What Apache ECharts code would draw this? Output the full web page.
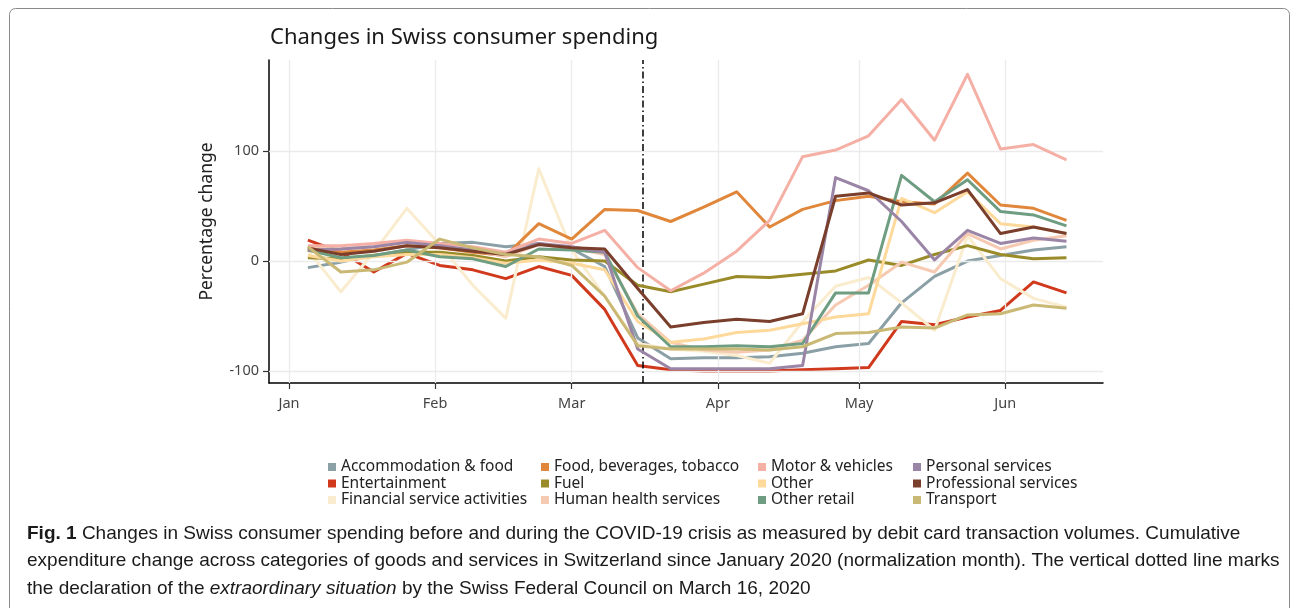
<!DOCTYPE html>
<html><head><meta charset="utf-8">
<script src="https://cdn.jsdelivr.net/npm/echarts@6/dist/echarts.min.js"></script>
<style>html,body{margin:0;padding:0;background:#fff}#c{width:1293px;height:608px}</style>
</head><body><div id="c"></div>
<script>
// weekly observation dates
const weeks = ['2020-01-05','2020-01-12','2020-01-19','2020-01-26','2020-02-02','2020-02-09','2020-02-16','2020-02-23',
  '2020-03-01','2020-03-08','2020-03-15','2020-03-22','2020-03-29','2020-04-05','2020-04-12','2020-04-19','2020-04-26',
  '2020-05-03','2020-05-10','2020-05-17','2020-05-24','2020-05-31','2020-06-07','2020-06-14'];
const monthTicks = ['2020-01-01','2020-02-01','2020-03-01','2020-04-01','2020-05-01','2020-06-01'];
const monthLabels = ['Jan','Feb','Mar','Apr','May','Jun'];
const yTicks = [-100, 0, 100];
const eventDate = '2020-03-16';

const categories = ['Accommodation & food','Entertainment','Financial service activities','Food, beverages, tobacco',
  'Fuel','Human health services','Motor & vehicles','Other','Other retail','Personal services','Professional services','Transport'];
const colors = ['#8b9fa6','#d0391c','#faecce','#e0873b','#9a8b2a','#f6cab2','#f5b0a6','#fdd99b','#6f9d82','#9b85a6','#7a3e2c','#cab974'];

const accommodation = [-6,-1,5,10,16,17,13,16,11,-5,-70,-89,-88,-88,-87,-84,-78,-75,-38,-14,0,5,10,13];
const entertainment = [19,8,-10,7,-4,-8,-16,-5,-13,-44,-95,-99,-100,-100,-100,-99,-98,-97,-55,-58,-51,-45,-19,-29];
const financial = [10,-28,8,48,15,-22,-52,84,10,-32,-75,-80,-82,-86,-93,-55,-23,-15,-38,-63,23,-16,-34,-42];
const food = [10,8,10,14,12,8,5,34,20,47,46,36,49,63,31,47,55,59,54,52,80,51,48,37];
const fuel = [3,2,5,8,8,5,0,4,1,0,-22,-28,-21,-14,-15,-12,-9,1,-4,6,14,6,2,3];
const humanHealth = [12,11,13,17,13,10,4,15,12,6,-48,-74,-81,-83,-81,-72,-40,-22,-1,-10,25,11,19,23];
const motor = [14,14,16,19,16,13,8,20,16,28,-6,-27,-11,9,37,95,101,114,147,110,170,102,106,92];
const other = [5,0,4,6,6,3,-2,1,-2,-8,-55,-74,-71,-65,-63,-57,-51,-48,57,44,63,34,31,25];
const otherRetail = [10,3,5,10,4,2,-5,11,10,8,-50,-78,-78,-77,-78,-75,-29,-29,78,54,74,45,42,32];
const personal = [10,11,13,17,14,10,6,16,13,8,-80,-98,-98,-98,-98,-95,76,64,36,1,28,16,21,18];
const professional = [12,6,9,14,12,9,6,15,12,11,-25,-60,-56,-53,-55,-48,59,62,51,53,65,25,31,25];
const transport = [13,-10,-8,-1,20,12,6,4,-4,-32,-77,-80,-80,-80,-81,-78,-66,-65,-60,-61,-49,-48,-40,-43];

const seriesValues = [accommodation, entertainment, financial, food, fuel, humanHealth, motor, other, otherRetail, personal, professional, transport];

// convert 'YYYY-MM-DD' to UTC milliseconds
function toMs(s) { const p = s.split('-').map(Number); return Date.UTC(p[0], p[1] - 1, p[2]); }
const DAY = 86400000;
const xMin = toMs('2020-01-01') - 4.25 * DAY;
const xMax = toMs('2020-06-01') + 20.75 * DAY;
const monthMs = monthTicks.map(toMs);

const FONT = 'Noto Sans';
const chart = echarts.init(document.getElementById('c'), null, {renderer: 'canvas'});

const lineSeries = categories.map((name, i) => ({
  name, type: 'line', showSymbol: false, symbol: 'none', z: 3 + i,
  data: weeks.map((w, j) => [toMs(w), seriesValues[i][j]]),
  lineStyle: {width: 3, color: colors[i], cap: 'butt', join: 'round'},
  itemStyle: {color: colors[i]},
  emphasis: {disabled: true}, silent: true
}));

const gridSeries = {
  name: '_grid', type: 'line', data: [], z: 1, silent: true,
  markLine: {
    silent: true, symbol: ['none','none'], label: {show: false}, animation: false,
    lineStyle: {color: '#ebebeb', width: 1.3, type: 'solid'},
    data: monthMs.map(d => ({xAxis: d})).concat(yTicks.map(v => ({yAxis: v})))
  }
};
const eventSeries = {
  name: '_event', type: 'line', data: [], z: 30, silent: true,
  markLine: {
    silent: true, symbol: ['none','none'], label: {show: false}, animation: false,
    lineStyle: {color: '#000', width: 1.5, type: [7,3,1.5,3]},
    data: [{xAxis: toMs(eventDate)}]
  }
};

const legendCols = [[0,1,2],[3,4,5],[6,7,8],[9,10,11]];
const legendLeft = [323, 536, 753, 908];
const legends = legendCols.map((idx, k) => ({
  orient: 'vertical', left: legendLeft[k], top: 454, itemGap: 0.5,
  icon: 'rect', itemWidth: 8, itemHeight: 8, selectedMode: false,
  textStyle: {fontFamily: FONT, fontSize: 15.5, color: '#222', lineHeight: 15},
  data: idx.map(i => categories[i])
}));

chart.setOption({
  animation: false,
  backgroundColor: '#fff',
  title: {text: 'Changes in Swiss consumer spending', left: 265, top: 22,
    textStyle: {fontFamily: FONT, fontSize: 22, fontWeight: 'normal', color: '#1a1a1a'}},
  legend: legends,
  grid: {left: 269, right: 190, top: 60, bottom: 225, containLabel: false},
  xAxis: {
    type: 'value', min: xMin, max: xMax,
    axisLine: {show: true, onZero: false, lineStyle: {color: '#000', width: 1.5}},
    axisTick: {show: true, length: 6, lineStyle: {color: '#333', width: 1.2}, customValues: monthMs},
    axisLabel: {customValues: monthMs, margin: 13, fontFamily: FONT, fontSize: 14.5, color: '#444',
      formatter: v => monthLabels[new Date(v).getUTCMonth()] || ''},
    splitLine: {show: false}, minorSplitLine: {show: false}
  },
  yAxis: {
    type: 'value', min: -111, max: 183,
    name: 'Percentage change', nameLocation: 'middle', nameGap: 53, nameRotate: 90,
    nameTextStyle: {fontFamily: FONT, fontSize: 17.5, color: '#222'},
    axisLine: {show: true, onZero: false, lineStyle: {color: '#000', width: 1.5}},
    axisTick: {show: true, length: 6, lineStyle: {color: '#333', width: 1.2}, customValues: yTicks},
    axisLabel: {customValues: yTicks, margin: 10, fontFamily: FONT, fontSize: 14.5, color: '#444'},
    splitLine: {show: false}
  },
  graphic: [
    {type: 'rect', silent: true, shape: {x: 9.5, y: 8.5, width: 1280, height: 620, r: 6},
      style: {fill: 'none', stroke: '#8a8a8a', lineWidth: 1}},
    {type: 'text', left: 27, top: 520, silent: true, style: {
      text: '{b|Fig. 1} Changes in Swiss consumer spending before and during the COVID-19 crisis as measured by debit card transaction volumes. Cumulative\nexpenditure change across categories of goods and services in Switzerland since January 2020 (normalization month). The vertical dotted line marks\nthe declaration of the {i|extraordinary situation} by the Swiss Federal Council on March 16, 2020',
      fontFamily: 'Liberation Sans', fontSize: 19, lineHeight: 27.5, fill: '#1a1a1a',
      rich: {b: {fontWeight: 'bold', fontFamily: 'Liberation Sans', fontSize: 19, lineHeight: 27.5, fill: '#1a1a1a'},
             i: {fontStyle: 'italic', fontFamily: 'Liberation Sans', fontSize: 19, lineHeight: 27.5, fill: '#1a1a1a'}}
    }}
  ],
  series: [gridSeries].concat(lineSeries, [eventSeries])
});
</script></body></html>
